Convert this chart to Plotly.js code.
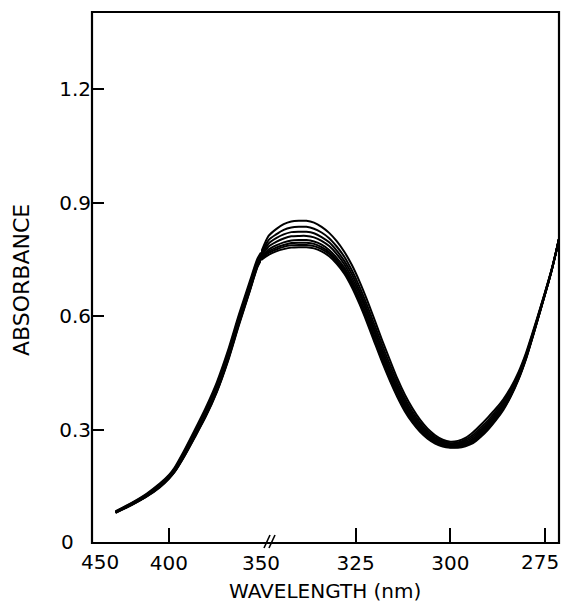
<!DOCTYPE html>
<html>
<head>
<meta charset="utf-8">
<script src="https://cdn.plot.ly/plotly-3.0.1.min.js"></script>
<style>html,body{margin:0;padding:0;background:#fff;}#chart{width:562px;height:604px;}</style>
</head>
<body>
<div id="chart"></div>
<script>
// Wavelength (nm) sampled along the spectra
const wavelength = [429,420,412,405,400,397,392,386,380,374,368,362,356,352,350,
  348,346,344,342,340,338,336,334,332,330,328,326,324,322,320,318,316,314,312,310,308,306,304,302,300,
  298,296,294,292,290,288,286,284,282,280,278,276,274,273,272,271];

// Absorbance of each spectrum (highest peak first)
const spectrum1 = [0.084,0.107,0.131,0.157,0.180,0.199,0.242,0.299,0.358,0.425,0.508,0.604,0.693,0.751,0.768,
  0.812,0.830,0.843,0.850,0.852,0.852,0.847,0.836,0.820,0.798,0.770,0.735,0.692,0.643,0.590,0.536,0.485,0.435,0.392,0.356,0.326,0.302,0.285,0.273,0.268,
  0.270,0.278,0.293,0.312,0.333,0.355,0.380,0.412,0.452,0.503,0.565,0.630,0.697,0.733,0.774,0.818];
const spectrum2 = [0.083,0.106,0.129,0.155,0.178,0.196,0.238,0.294,0.352,0.419,0.502,0.598,0.687,0.746,0.763,
  0.801,0.816,0.828,0.834,0.836,0.836,0.831,0.821,0.806,0.784,0.757,0.721,0.678,0.629,0.576,0.523,0.472,0.424,0.382,0.347,0.319,0.296,0.280,0.269,0.264,
  0.266,0.273,0.286,0.305,0.325,0.348,0.374,0.406,0.447,0.499,0.562,0.628,0.696,0.732,0.774,0.818];
const spectrum3 = [0.082,0.105,0.128,0.153,0.176,0.194,0.235,0.291,0.348,0.414,0.497,0.593,0.682,0.742,0.760,
  0.792,0.806,0.816,0.822,0.823,0.823,0.819,0.809,0.795,0.773,0.746,0.711,0.667,0.618,0.565,0.512,0.462,0.415,0.374,0.340,0.313,0.291,0.276,0.266,0.261,
  0.263,0.269,0.281,0.299,0.319,0.342,0.369,0.402,0.444,0.496,0.560,0.627,0.695,0.732,0.773,0.818];
const spectrum4 = [0.082,0.104,0.126,0.151,0.174,0.192,0.233,0.288,0.344,0.410,0.492,0.588,0.678,0.738,0.757,
  0.784,0.796,0.805,0.811,0.812,0.812,0.808,0.799,0.785,0.764,0.737,0.701,0.658,0.609,0.556,0.503,0.454,0.407,0.367,0.334,0.308,0.287,0.272,0.263,0.259,
  0.260,0.265,0.276,0.294,0.314,0.337,0.364,0.398,0.441,0.494,0.558,0.625,0.694,0.731,0.773,0.818];
const spectrum5 = [0.081,0.103,0.125,0.150,0.173,0.190,0.230,0.284,0.340,0.406,0.488,0.584,0.674,0.735,0.753,
  0.776,0.787,0.795,0.800,0.801,0.801,0.797,0.789,0.775,0.754,0.728,0.692,0.648,0.599,0.546,0.494,0.445,0.399,0.360,0.328,0.303,0.283,0.269,0.260,0.256,
  0.257,0.262,0.272,0.289,0.309,0.332,0.360,0.394,0.437,0.491,0.556,0.624,0.693,0.731,0.773,0.818];
const spectrum6 = [0.081,0.102,0.124,0.149,0.172,0.189,0.229,0.282,0.338,0.403,0.485,0.581,0.671,0.733,0.751,
  0.771,0.781,0.788,0.793,0.794,0.794,0.791,0.782,0.769,0.748,0.722,0.686,0.642,0.593,0.540,0.488,0.439,0.394,0.355,0.324,0.299,0.280,0.267,0.258,0.255,
  0.255,0.260,0.269,0.285,0.306,0.329,0.357,0.392,0.435,0.490,0.555,0.623,0.693,0.730,0.772,0.818];
const spectrum7 = [0.080,0.102,0.124,0.148,0.171,0.188,0.227,0.281,0.336,0.401,0.483,0.579,0.669,0.731,0.750,
  0.767,0.776,0.783,0.787,0.788,0.788,0.785,0.777,0.764,0.743,0.717,0.681,0.637,0.588,0.535,0.483,0.435,0.390,0.352,0.321,0.297,0.278,0.265,0.257,0.253,
  0.254,0.258,0.267,0.283,0.303,0.327,0.355,0.390,0.434,0.488,0.554,0.623,0.692,0.730,0.772,0.818];
const spectrum8 = [0.080,0.101,0.123,0.147,0.170,0.187,0.226,0.279,0.334,0.399,0.480,0.576,0.667,0.729,0.748,
  0.762,0.771,0.777,0.781,0.782,0.782,0.779,0.771,0.758,0.738,0.712,0.676,0.632,0.583,0.530,0.478,0.430,0.386,0.348,0.318,0.294,0.276,0.263,0.255,0.252,
  0.252,0.256,0.264,0.280,0.300,0.324,0.352,0.388,0.432,0.487,0.553,0.622,0.692,0.730,0.772,0.818];

// Axis ticks
const breakWavelength = 350;
const leftTickVals = [400, 350];
const leftTickText = ['400', '350'];
const leftEdgeLabel = '450';
const rightTickVals = [325, 300, 275];
const rightTickText = ['325', '300', '275'];
const yTickVals = [0.3, 0.6, 0.9, 1.2];
const yTickText = ['0.3', '0.6', '0.9', '1.2'];
const yOriginLabel = '0';

const spectra = [spectrum1, spectrum2, spectrum3, spectrum4, spectrum5, spectrum6, spectrum7, spectrum8];
const lineStyle = {color: '#000', width: 2, shape: 'spline', smoothing: 0.7};
const traces = [];
spectra.forEach(function (s) {
  const lx = [], ly = [], rx = [], ry = [];
  wavelength.forEach(function (w, i) {
    if (w >= breakWavelength) { lx.push(w); ly.push(s[i]); }
    if (w <= breakWavelength) { rx.push(w); ry.push(s[i]); }
  });
  traces.push({x: lx, y: ly, xaxis: 'x', yaxis: 'y', mode: 'lines', line: lineStyle, hoverinfo: 'skip'});
  traces.push({x: rx, y: ry, xaxis: 'x2', yaxis: 'y', mode: 'lines', line: lineStyle, hoverinfo: 'skip'});
});

const W = 562, H = 604, ML = 92, MR = 3, MT = 12, MB = 61;
const PW = W - ML - MR, PH = H - MT - MB;
const split = (261 - ML) / PW;
function px(x) { return (x - ML) / PW; }
function py(y) { return (H - MB - y) / PH; }

const tickFont = {family: 'DejaVu Sans, sans-serif', size: 20, color: '#000'};
const axisCommon = {showgrid: false, zeroline: false, showline: false, ticks: 'inside',
  tickcolor: '#000', tickwidth: 2, tickfont: tickFont, fixedrange: true};

// the last right-hand label sits flush with the page edge, so it is drawn as an annotation
const rightAxisText = rightTickText.map(function (t, i) { return i === rightTickText.length - 1 ? '' : t; });

const layout = {
  width: W, height: H,
  margin: {l: ML, r: MR, t: MT, b: MB, pad: 0},
  paper_bgcolor: '#fff', plot_bgcolor: '#fff',
  showlegend: false,
  font: {family: 'DejaVu Sans, sans-serif', color: '#000'},
  xaxis: Object.assign({}, axisCommon, {domain: [0, split], range: [441.8, 350], anchor: 'y',
    tickmode: 'array', tickvals: leftTickVals, ticktext: leftTickText, ticklen: 15, ticklabelstandoff: 6}),
  xaxis2: Object.assign({}, axisCommon, {domain: [split, 1], range: [350, 271.3], anchor: 'y',
    tickmode: 'array', tickvals: rightTickVals, ticktext: rightAxisText, ticklen: 15, ticklabelstandoff: 6}),
  yaxis: Object.assign({}, axisCommon, {range: [0, 1.404], anchor: 'x',
    tickmode: 'array', tickvals: yTickVals, ticktext: yTickText, ticklen: 12}),
  shapes: [
    {type: 'rect', xref: 'paper', yref: 'paper', x0: 0, x1: 1, y0: 0, y1: 1, line: {color: '#000', width: 2.2}},
    {type: 'line', xref: 'paper', yref: 'paper', x0: px(264), y0: py(548), x1: px(270), y1: py(535), line: {color: '#000', width: 1.6}},
    {type: 'line', xref: 'paper', yref: 'paper', x0: px(269), y0: py(548), x1: px(275), y1: py(535), line: {color: '#000', width: 1.6}}
  ],
  annotations: [
    {text: leftEdgeLabel, xref: 'paper', yref: 'paper', x: px(100), y: py(562), xanchor: 'center', yanchor: 'middle',
      showarrow: false, font: tickFont},
    {text: rightTickText[rightTickText.length - 1], xref: 'paper', yref: 'paper', x: px(561), y: py(562),
      xanchor: 'right', yanchor: 'middle', showarrow: false, font: tickFont},
    {text: yOriginLabel, xref: 'paper', yref: 'paper', x: px(67), y: py(542), xanchor: 'center', yanchor: 'middle',
      showarrow: false, font: tickFont},
    {text: 'WAVELENGTH (nm)', xref: 'paper', yref: 'paper', x: px(325), y: py(591), xanchor: 'center', yanchor: 'middle',
      showarrow: false, font: {family: 'DejaVu Sans, sans-serif', size: 20, color: '#000'}},
    {text: 'ABSORBANCE', xref: 'paper', yref: 'paper', x: px(22), y: py(280), xanchor: 'center', yanchor: 'middle',
      textangle: -90, showarrow: false, font: {family: 'DejaVu Sans, sans-serif', size: 22, color: '#000'}}
  ]
};

Plotly.newPlot('chart', traces, layout, {displayModeBar: false, staticPlot: true});
</script>
</body>
</html>
